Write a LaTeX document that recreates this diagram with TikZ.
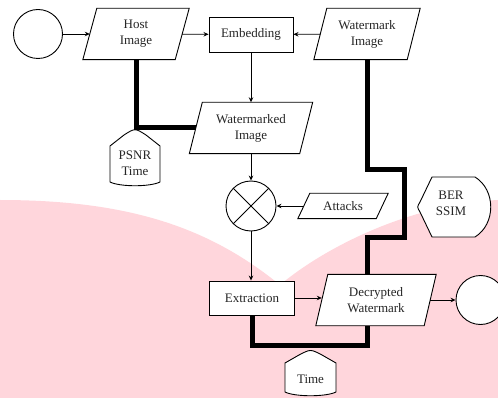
\documentclass[tikz,border=0pt]{standalone}
\usepackage{fontspec}
\setmainfont{Liberation Serif}
\newfontfamily\tnr{Liberation Serif}
\usetikzlibrary{arrows.meta}
\definecolor{bgpink}{RGB}{255,214,220}
\pgfdeclarelayer{back}
\pgfdeclarelayer{shapes}
\pgfsetlayers{back,shapes,main}
\newcommand\drawpara[2]{\begin{pgfonlayer}{shapes}\draw[shp] ([xshift=#2]#1.north west) -- ([xshift=#2]#1.north east) -- ([xshift=-#2]#1.south east) -- ([xshift=-#2]#1.south west) -- cycle;\end{pgfonlayer}}
\begin{document}
\begin{tikzpicture}[x=1pt,y=-1pt,
  lbl/.style={inner sep=0pt, align=center, text=black!85, font=\tnr\fontsize{13}{16}\selectfont},
  box/.style={lbl, draw, fill=white, line width=0.9pt},
  shp/.style={draw, fill=white, line width=0.9pt},
  arr/.style={line width=0.9pt, -{Stealth[length=5pt,width=4.5pt]}},
  thk/.style={line width=5pt, line join=miter, line cap=butt},
  circ/.style={circle, draw, fill=white, line width=0.9pt, minimum size=49pt, inner sep=0pt}]
\useasboundingbox (0,0) rectangle (498,398);
\begin{pgfonlayer}{back}
\fill[bgpink] (0,200) .. controls (130,200) and (210,228) .. (280,285) .. controls (315,255) and (400,205) .. (498,200) -- (498,398) -- (0,398) -- cycle;
\end{pgfonlayer}

% nodes
\node[circ] (start) at (38,34) {};
\node[lbl, minimum width=92pt, minimum height=51pt] (host) at (136,34) {Host\\Image};
\drawpara{host}{7pt}
\node[box, minimum width=84pt, minimum height=35pt] (emb) at (251,34.5) {Embedding};
\node[lbl, minimum width=93pt, minimum height=51pt] (wm) at (367,34) {Watermark\\Image};
\drawpara{wm}{6.5pt}
\node[lbl, minimum width=110pt, minimum height=51pt] (wmd) at (251,128) {Watermarked\\Image};
\drawpara{wmd}{6.5pt}
\node[circ, minimum size=50pt] (mix) at (251,206) {};
\draw[line width=0.9pt] (mix.north west) -- (mix.south east) (mix.north east) -- (mix.south west);
\node[lbl, minimum width=78pt, minimum height=25pt] (att) at (343,206) {Attacks};
\drawpara{att}{6pt}
\node[box, minimum width=85pt, minimum height=34pt] (ext) at (252,298) {Extraction};
\node[lbl, minimum width=108pt, minimum height=51pt] (dec) at (376,300) {Decrypted\\Watermark};
\drawpara{dec}{6pt}
\node[circ] (end) at (480.5,300) {};

% display shapes
\begin{pgfonlayer}{shapes}
\draw[shp] (110,182) -- (110,146) -- (124,135) .. controls (135,128) .. (146,135) -- (160,146) -- (160,182) .. controls (150,187) and (120,187) .. (110,182) -- cycle;
\draw[shp] (285,392) -- (285,363) -- (299,355) .. controls (310.5,349) .. (322,355) -- (336,363) -- (336,392) .. controls (326,397) and (295,397) .. (285,392) -- cycle;
\draw[shp] (432,177) -- (475,177) .. controls (496,190) and (496,224) .. (475,237) -- (432,237) -- (420,212) .. controls (417,207) .. (420,202) -- cycle;
\end{pgfonlayer}
\node[lbl] (psnr) at (135,163) {PSNR\\Time};
\node[lbl] (time) at (310.5,379) {Time};
\node[lbl] (ber) at (451,203) {BER\\SSIM};

% connectors
\draw[arr] (start) -- (host);
\draw[arr] (host) -- (emb);
\draw[arr] (wm) -- (emb);
\draw[arr] (emb.south) -- (emb.south |- wmd.north);
\draw[arr] (wmd.south) -- (wmd.south |- mix.north);
\draw[arr] (att) -- (mix);
\draw[arr] (mix.south) -- (mix.south |- ext.north);
\draw[arr] (ext.east) -- (ext.east -| dec.west);
\draw[arr] (dec.east) -- (dec.east -| end.west);

\coordinate (k1) at (404,170);
\coordinate (k2) at (367,238);
\coordinate (k3) at (367,345);
\draw[thk] (host.south) |- (wmd.west);
\draw[thk] (wm.south) |- (k1) |- (k2) -- (k2 |- dec.north);
\draw[thk] (ext.south) |- (k3) -- (k3 |- dec.south);
\end{tikzpicture}
\end{document}
